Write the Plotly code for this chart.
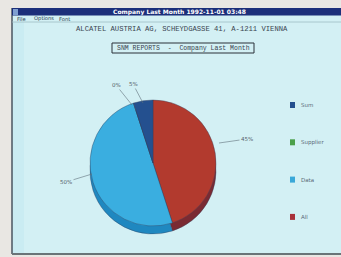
import plotly.graph_objects as go

# ---- data ----
categories = ["All", "Data", "Supplier", "Sum"]          # slice order, clockwise from 12 o'clock
values = [45, 50, 0, 5]
top_colors = ["#b23a2e", "#3aaee0", "#3f9f4a", "#24508f"]
side_colors = ["#7a2a32", "#1f88c0", "#2a7a35", "#18386a"]
legend_order = ["Sum", "Supplier", "Data", "All"]
legend_colors = {"Sum": "#24508f", "Supplier": "#4aa04a", "Data": "#3aa8d8", "All": "#a8323a"}

window_title = "Company Last Month 1992-11-01 03:48"
menu_items = ["File", "Options", "Font"]
header_text = "ALCATEL AUSTRIA AG, SCHEYDGASSE 41, A-1211 VIENNA"
report_title = "SNM REPORTS  -  Company Last Month"

W, H = 341, 257


def px(x):
    return x / W


def py(y):
    return 1 - y / H


# pie geometry (pixels)
cx, cy, r = 153, 163, 63
depth = 8

fig = go.Figure()

# side (3D thickness) pie, drawn slightly lower
fig.add_trace(go.Pie(
    labels=categories, values=values, sort=False, direction="clockwise", rotation=0,
    marker=dict(colors=side_colors, line=dict(color="#34405a", width=0.4)),
    textinfo="none", hoverinfo="skip", showlegend=False,
    domain=dict(x=[px(cx - r), px(cx + r)], y=[py(cy + r + depth), py(cy - r + depth)]),
))
# top face
fig.add_trace(go.Pie(
    labels=categories, values=values, sort=False, direction="clockwise", rotation=0,
    marker=dict(colors=top_colors, line=dict(color="#34405a", width=0.4)),
    textinfo="none", showlegend=False,
    domain=dict(x=[px(cx - r), px(cx + r)], y=[py(cy + r), py(cy - r)]),
))

shapes = []
annotations = []

# screen area
shapes.append(dict(type="rect", xref="paper", yref="paper", x0=px(12), x1=px(341), y0=py(253), y1=py(8),
                   fillcolor="#d3f0f4", line=dict(width=0), layer="below"))
shapes.append(dict(type="rect", xref="paper", yref="paper", x0=px(12), x1=px(24), y0=py(253), y1=py(22),
                   fillcolor="#c2e8f0", line=dict(width=0), layer="below", opacity=0.5))
# left border and bottom border
shapes.append(dict(type="line", xref="paper", yref="paper", x0=px(12), x1=px(12), y0=py(254), y1=py(8),
                   line=dict(color="#4a5660", width=1.5)))
shapes.append(dict(type="line", xref="paper", yref="paper", x0=px(12), x1=px(341), y0=py(254), y1=py(254),
                   line=dict(color="#6a7478", width=2)))
# title bar
shapes.append(dict(type="rect", xref="paper", yref="paper", x0=px(12), x1=px(341), y0=py(15.5), y1=py(8),
                   fillcolor="#1c2f7a", line=dict(width=0)))
shapes.append(dict(type="rect", xref="paper", yref="paper", x0=px(13), x1=px(18), y0=py(15), y1=py(9),
                   fillcolor="#7f9fd0", line=dict(width=0)))
# menu underline
shapes.append(dict(type="line", xref="paper", yref="paper", x0=px(12), x1=px(341), y0=py(22), y1=py(22),
                   line=dict(color="#9fbcc4", width=0.8)))
# report title box
shapes.append(dict(type="rect", xref="paper", yref="paper", x0=px(112), x1=px(254), y0=py(53), y1=py(43),
                   fillcolor="rgba(0,0,0,0)", line=dict(color="#2a3038", width=1)))


def note(text, x, y, size, color, family="DejaVu Sans", xanchor="center", bold=False):
    annotations.append(dict(text=f"<b>{text}</b>" if bold else text, x=px(x), y=py(y),
                            xref="paper", yref="paper", xanchor=xanchor, yanchor="middle",
                            showarrow=False, font=dict(family=family, size=size, color=color)))


note(window_title, 179, 11.8, 6, "#ffffff", bold=True)
for name, x in zip(menu_items, [15, 32, 57]):
    note(name, x, 18.8, 5.2, "#2a4050", xanchor="left")
note(header_text, 182, 29, 7.2, "#3a4450", family="Liberation Mono")
note(report_title, 183, 48, 6.5, "#3a4450", family="Liberation Mono")

# slice labels with leader lines (text from data)
total = sum(values)
label_pos = {"Sum": (143, 103, -10, -19), "Supplier": (132, 105, -16, -20),
             "All": (219, 143, 28, -4), "Data": (92, 174, -26, 8)}
for cat, v in zip(categories, values):
    x, y, ax, ay = label_pos[cat]
    annotations.append(dict(text=f"{round(100 * v / total)}%", x=px(x), y=py(y), xref="paper", yref="paper",
                            ax=ax, ay=ay, showarrow=True, arrowhead=0, arrowwidth=0.6, arrowcolor="#60707a",
                            font=dict(family="DejaVu Sans", size=5.5, color="#55606a")))

# legend
for i, name in enumerate(legend_order):
    y = 105 + i * 37.3
    shapes.append(dict(type="rect", xref="paper", yref="paper", x0=px(290), x1=px(295), y0=py(y + 3), y1=py(y - 3),
                       fillcolor=legend_colors[name], line=dict(width=0)))
    note(name, 299, y, 5.5, "#5a6a78", xanchor="left")

fig.update_layout(
    width=W, height=H, margin=dict(l=0, r=0, t=0, b=0),
    paper_bgcolor="#e9e7e3", plot_bgcolor="#e9e7e3",
    shapes=shapes, annotations=annotations, showlegend=False,
)

fig.write_html("out.html", config={"displayModeBar": False},
               post_script="document.body.style.margin='0';document.body.style.overflow='hidden';")
